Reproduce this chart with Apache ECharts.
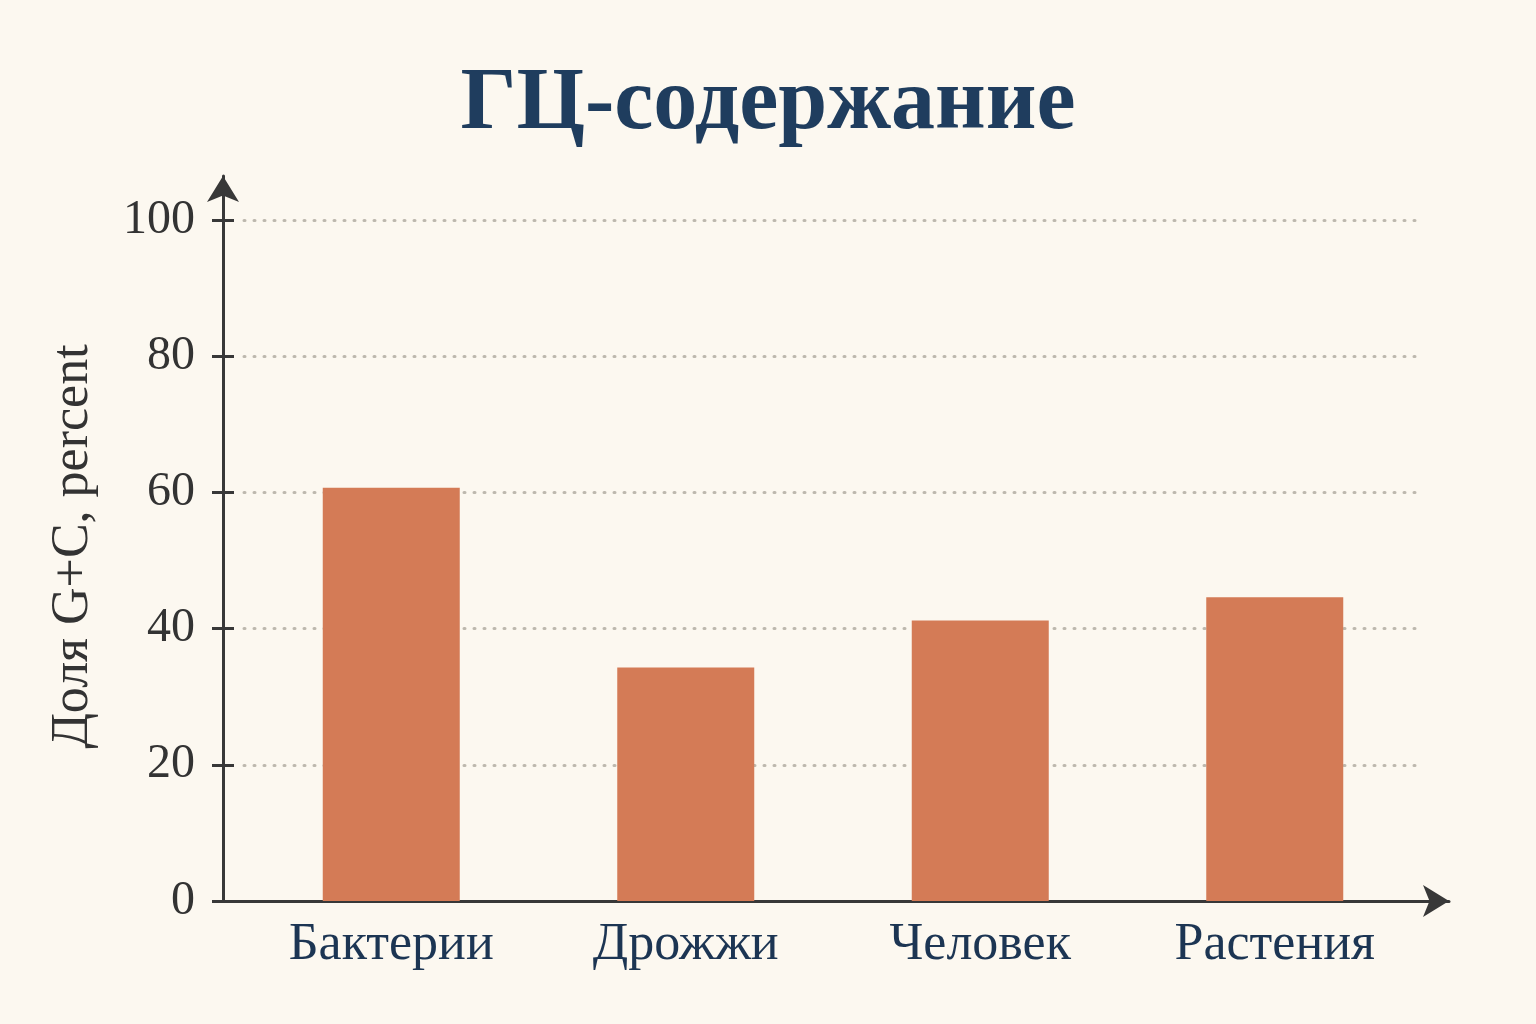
<!DOCTYPE html>
<html>
<head>
<meta charset="utf-8">
<script src="https://cdn.jsdelivr.net/npm/echarts@6/dist/echarts.min.js"></script>
<style>
  html, body { margin: 0; padding: 0; background: #fcf8f0; }
  #chart { width: 1536px; height: 1024px; }
</style>
</head>
<body>
<div id="chart"></div>
<script>
// данные
const categories = ['Бактерии', 'Дрожжи', 'Человек', 'Растения'];
const gcValues = [60.7, 34.3, 41.2, 44.6];

const serif = '"Liberation Serif", "DejaVu Serif", serif';
const axisColor = '#383838';

let chart = echarts.init(document.getElementById('chart'));

let option = {
    backgroundColor: '#fcf8f0',
    title: {
        text: 'ГЦ-содержание',
        left: 'center',
        top: 56,
        textStyle: {
            fontFamily: serif,
            fontSize: 88,
            fontWeight: 'bold',
            color: '#1f3d5e'
        }
    },
    grid: [
        // сетка со столбцами
        { left: 244, right: 114, top: 220, bottom: 123 },
        // сетка только для осей со стрелками
        { left: 223, right: 87, top: 176, bottom: 123 }
    ],
    xAxis: [
        {
            type: 'category',
            gridIndex: 0,
            data: categories,
            axisLine: { show: false },
            axisTick: { show: false },
            axisLabel: {
                margin: 18,
                fontFamily: serif,
                fontSize: 52,
                color: '#1c3553'
            }
        },
        {
            type: 'value',
            gridIndex: 1,
            min: 0,
            max: 1,
            axisLine: {
                show: true,
                symbol: ['none', 'arrow'],
                symbolSize: [24, 26],
                lineStyle: { color: axisColor, width: 3 }
            },
            axisTick: { show: false },
            axisLabel: { show: false },
            splitLine: { show: false }
        }
    ],
    yAxis: [
        {
            type: 'value',
            gridIndex: 0,
            min: 0,
            max: 100,
            interval: 20,
            offset: 21,
            name: 'Доля G+C, percent',
            nameLocation: 'middle',
            nameRotate: 90,
            nameGap: 124,
            nameTextStyle: {
                fontFamily: serif,
                fontSize: 52,
                color: '#333333',
                padding: [0, 0, 0, 28]
            },
            axisLine: { show: false },
            axisTick: {
                show: true,
                length: 11,
                lineStyle: { color: axisColor, width: 3 }
            },
            axisLabel: {
                margin: 28,
                fontFamily: serif,
                fontSize: 48,
                color: '#333333'
            },
            splitLine: {
                show: true,
                lineStyle: {
                    color: '#bdb8ae',
                    width: 3,
                    type: [1, 9],
                    cap: 'round'
                }
            }
        },
        {
            // внутренняя половина засечек
            type: 'value',
            gridIndex: 0,
            min: 0,
            max: 100,
            interval: 20,
            position: 'left',
            offset: 21,
            axisLine: { show: false },
            axisTick: {
                show: true,
                inside: true,
                length: 11,
                lineStyle: { color: axisColor, width: 3 }
            },
            axisLabel: { show: false },
            splitLine: { show: false }
        },
        {
            type: 'value',
            gridIndex: 1,
            min: 0,
            max: 1,
            axisLine: {
                show: true,
                symbol: ['none', 'arrow'],
                symbolSize: [24, 26],
                lineStyle: { color: axisColor, width: 3 }
            },
            axisTick: { show: false },
            axisLabel: { show: false },
            splitLine: { show: false }
        }
    ],
    series: [
        {
            type: 'bar',
            xAxisIndex: 0,
            yAxisIndex: 0,
            data: gcValues,
            barWidth: 137,
            itemStyle: { color: '#d47b56' }
        }
    ]
};

chart.setOption(option);
</script>
</body>
</html>
